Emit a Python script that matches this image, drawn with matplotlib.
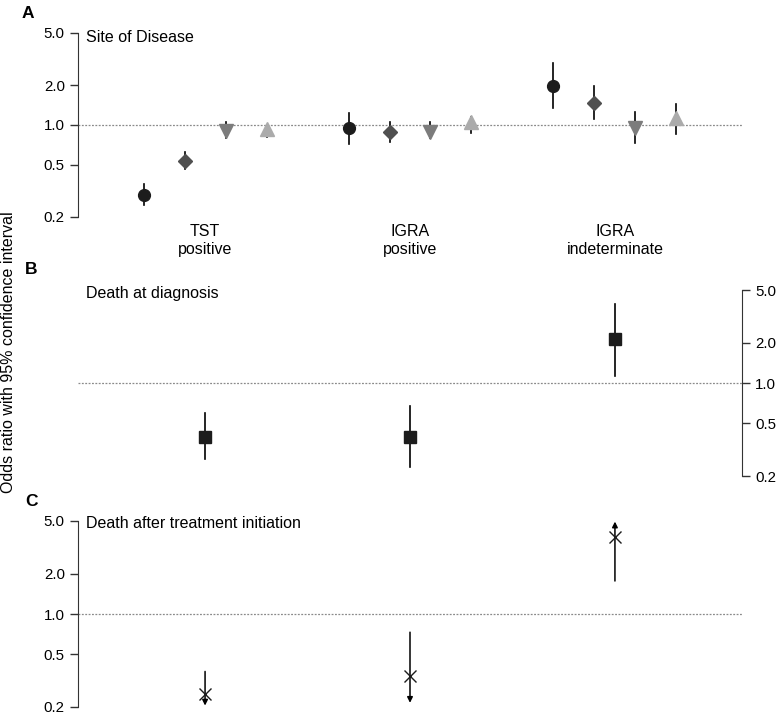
import matplotlib
matplotlib.use("Agg")
import matplotlib.pyplot as plt
import numpy as np

plt.rcParams['font.family'] = ['Liberation Sans', 'DejaVu Sans']

# ---------------- data ----------------
categories = ["TST\npositive", "IGRA\npositive", "IGRA\nindeterminate"]
yticks = [0.2, 0.5, 1.0, 2.0, 5.0]
ytick_labels = ["0.2", "0.5", "1.0", "2.0", "5.0"]

# Panel A: site of disease, four series per category
a_or = {
    "s1": [0.294, 0.95, 1.98],
    "s2": [0.53, 0.885, 1.47],
    "s3": [0.90, 0.885, 0.95],
    "s4": [0.93, 1.05, 1.13],
}
a_lo = {
    "s1": [0.247, 0.72, 1.35],
    "s2": [0.46, 0.74, 1.11],
    "s3": [0.80, 0.79, 0.73],
    "s4": [0.81, 0.87, 0.85],
}
a_hi = {
    "s1": [0.356, 1.23, 2.96],
    "s2": [0.62, 1.05, 1.98],
    "s3": [1.05, 1.05, 1.25],
    "s4": [1.00, 1.15, 1.44],
}

# Panel B: death at diagnosis
b_or = [0.39, 0.39, 2.14]
b_lo = [0.27, 0.233, 1.13]
b_hi = [0.59, 0.67, 3.93]

# Panel C: death after treatment initiation (arrows mark CI beyond axis)
c_or = [0.25, 0.34, 3.8]
c_lo = [0.205, 0.215, 1.77]
c_hi = [0.37, 0.73, 4.95]
c_lo_arrow = [True, True, False]
c_hi_arrow = [False, False, True]

# ---------------- styles ----------------
series_style = {
    "s1": dict(marker="o", color="#1c1c1c", ms=8.5),
    "s2": dict(marker="D", color="#505050", ms=7.2),
    "s3": dict(marker="v", color="#7c7c7c", ms=10.5),
    "s4": dict(marker="^", color="#ababab", ms=10.5),
}
offsets = {"s1": -0.3, "s2": -0.1, "s3": 0.1, "s4": 0.3}
TXT = 11.5
TICK = 10.8

W, H = 776, 716
fig = plt.figure(figsize=(W / 100, H / 100), dpi=100)

def fx(px):
    return px / W

def fy(py):
    return 1 - py / H

left, right = 78, 742
axA = fig.add_axes([fx(left), fy(217), fx(right - left), (217 - 33) / H])
axB = fig.add_axes([fx(left), fy(476), fx(right - left), (476 - 290) / H])
axC = fig.add_axes([fx(left), fy(707), fx(right - left), (707 - 521) / H])

xpos = np.arange(1, len(categories) + 1)
spine_col = "#333333"

for ax in (axA, axB, axC):
    ax.set_yscale("log")
    ax.set_ylim(0.2, 5.0)
    ax.set_xlim(0.38, 3.62)
    for s in ax.spines.values():
        s.set_visible(False)
    ax.axhline(1.0, color="#8a8a8a", lw=0.9, ls=(0, (1.5, 1.2)), zorder=1)
    ax.yaxis.set_minor_locator(matplotlib.ticker.NullLocator())
    ax.set_yticks(yticks)
    ax.set_yticklabels(ytick_labels, fontsize=TICK)
    ax.tick_params(axis="y", length=6, width=1, color=spine_col, pad=3.5)
    ax.set_facecolor("none")

# Panel A
axA.spines["left"].set_visible(True)
axA.spines["left"].set_color(spine_col)
for key in a_or:
    st = series_style[key]
    x = xpos + offsets[key]
    for xi, o, lo, hi in zip(x, a_or[key], a_lo[key], a_hi[key]):
        axA.plot([xi, xi], [lo, hi], color="black", lw=1.2, zorder=2)
    axA.plot(x, a_or[key], ls="none", marker=st["marker"], ms=st["ms"],
             color=st["color"], mec=st["color"], zorder=3, clip_on=False)
axA.set_xticks(xpos)
axA.set_xticklabels(categories, fontsize=TXT, linespacing=1.25)
axA.tick_params(axis="x", length=0, pad=5)
axA.text(0.0127, 0.975, "Site of Disease", transform=axA.transAxes,
         fontsize=TXT, ha="left", va="center")

# Panel B
axB.spines["right"].set_visible(True)
axB.spines["right"].set_color(spine_col)
axB.yaxis.tick_right()
axB.yaxis.set_label_position("right")
for xi, o, lo, hi in zip(xpos, b_or, b_lo, b_hi):
    axB.plot([xi, xi], [lo, hi], color="black", lw=1.2, zorder=2)
axB.plot(xpos, b_or, ls="none", marker="s", ms=8, color="#1c1c1c", zorder=3)
axB.set_xticks([])
axB.text(0.0127, 0.98, "Death at diagnosis", transform=axB.transAxes,
         fontsize=TXT, ha="left", va="center")

# Panel C
axC.spines["left"].set_visible(True)
axC.spines["left"].set_color(spine_col)
for xi, o, lo, hi, la, ha_ in zip(xpos, c_or, c_lo, c_hi, c_lo_arrow, c_hi_arrow):
    if la:
        axC.annotate("", xy=(xi, lo), xytext=(xi, hi),
                     arrowprops=dict(arrowstyle="-|>", color="black", lw=1.1,
                                     mutation_scale=8, shrinkA=0, shrinkB=0),
                     annotation_clip=False)
    elif ha_:
        axC.annotate("", xy=(xi, hi), xytext=(xi, lo),
                     arrowprops=dict(arrowstyle="-|>", color="black", lw=1.1,
                                     mutation_scale=8, shrinkA=0, shrinkB=0),
                     annotation_clip=False)
    else:
        axC.plot([xi, xi], [lo, hi], color="black", lw=1.1)
axC.plot(xpos, c_or, ls="none", marker="x", ms=8, mew=1.0, color="#1c1c1c", zorder=3)
axC.set_xticks([])
axC.text(0.0127, 0.985, "Death after treatment initiation", transform=axC.transAxes,
         fontsize=TXT, ha="left", va="center")

# Panel letters and shared y label
fig.text(fx(22), fy(13), "A", fontsize=12.5, fontweight="bold", ha="left", va="center")
fig.text(fx(25), fy(269), "B", fontsize=12.5, fontweight="bold", ha="left", va="center")
fig.text(fx(25), fy(502), "C", fontsize=12.5, fontweight="bold", ha="left", va="center")
fig.text(fx(1), fy(352), "Odds ratio with 95% confidence interval", rotation=90,
         fontsize=TXT, ha="left", va="center")

fig.savefig("out.png", dpi=100)
